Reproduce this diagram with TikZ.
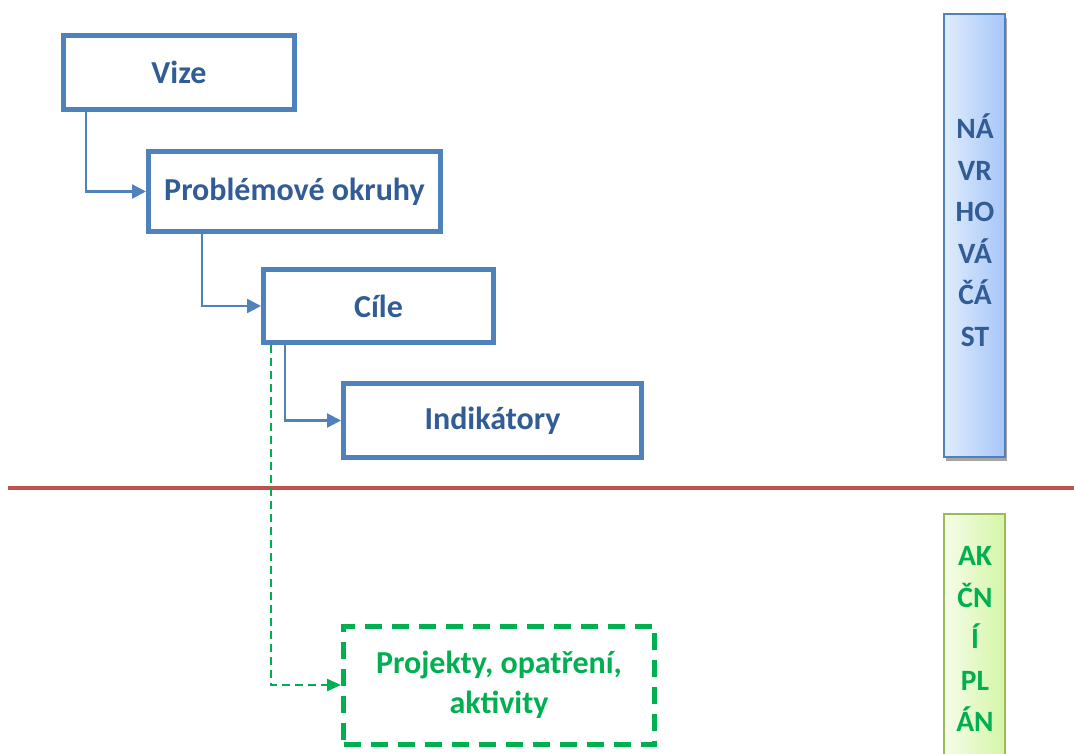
\documentclass[tikz,border=0pt]{standalone}
\usepackage{fontspec}
\setmainfont{Carlito}
\usetikzlibrary{arrows.meta}
\definecolor{boxblue}{RGB}{79,129,189}
\definecolor{txtblue}{RGB}{50,92,150}
\definecolor{agreen}{RGB}{0,176,80}
\definecolor{redline}{RGB}{192,80,77}
\definecolor{barblueL}{RGB}{224,236,252}
\definecolor{barblueR}{RGB}{166,198,248}
\definecolor{bargreenL}{RGB}{245,253,232}
\definecolor{bargreenR}{RGB}{212,245,166}
\definecolor{bargreenB}{RGB}{155,187,89}
\tikzset{
  mainbox/.style={draw=boxblue, line width=5pt, fill=white, inner sep=0pt,
    font=\fontsize{32}{38}\bfseries\selectfont, text=txtblue},
  projbox/.style={draw=agreen, line width=5pt, dash pattern=on 17pt off 10pt, inner sep=0pt,
    font=\fontsize{32}{40}\bfseries\selectfont, text=agreen, align=center},
  conn/.style={draw=boxblue, line width=2.5pt, -{Triangle[length=14pt,width=14pt]}},
  gconn/.style={draw=agreen, line width=2.2pt, dash pattern=on 8pt off 5pt, -{Triangle[length=14pt,width=12pt]}},
  barblue/.style={draw=boxblue, line width=1.5pt, left color=barblueL, right color=barblueR, inner sep=0pt},
  bargreen/.style={draw=bargreenB, line width=1.5pt, left color=bargreenL, right color=bargreenR, inner sep=0pt},
  bartext/.style={font=\fontsize{29.5}{41.5}\bfseries\selectfont, align=center, inner sep=0pt}
}
\begin{document}
\begin{tikzpicture}[x=1pt,y=-1pt]
\useasboundingbox (0,0) rectangle (1074,753);
% bars
\fill[gray!70] (946,18) rectangle (1007,461);
\node[barblue, minimum width=61pt, minimum height=443pt] (nav) at (974.5,235.5) {};
\node[bartext, text=txtblue] (navt) at (975,230) {NÁ\\VR\\HO\\VÁ\\ČÁ\\ST};
\node[bargreen, minimum width=61pt, minimum height=260pt] (akc) at (974.5,644) {};
\node[bartext, text=agreen] (akct) at (975,639) {AK\\ČN\\Í\\PL\\ÁN};
% red line
\draw[redline, line width=3.5pt] (8,488) -- (1074,488);
% boxes
\node[mainbox, minimum width=231pt, minimum height=74pt] (vize) at (179,72.5) {Vize};
\node[mainbox, minimum width=292pt, minimum height=80pt] (prob) at (294.5,191.5) {Problémové okruhy};
\node[mainbox, minimum width=230pt, minimum height=73pt] (cile) at (378.5,306) {Cíle};
\node[mainbox, minimum width=298pt, minimum height=74pt] (ind) at (492.5,420.5) {Indikátory};
\node[projbox, minimum width=311pt, minimum height=118pt] (proj) at (499,685) {Projekty, opatření,\\aktivity};
% connectors
\draw[conn] ([xshift=25pt]vize.south west) |- (prob.west);
\draw[conn] ([xshift=56pt]prob.south west) |- (cile.west);
\draw[conn] ([xshift=24pt]cile.south west) |- (ind.west);
\draw[gconn] ([xshift=10pt]cile.south west) |- (proj.west);
\end{tikzpicture}
\end{document}
